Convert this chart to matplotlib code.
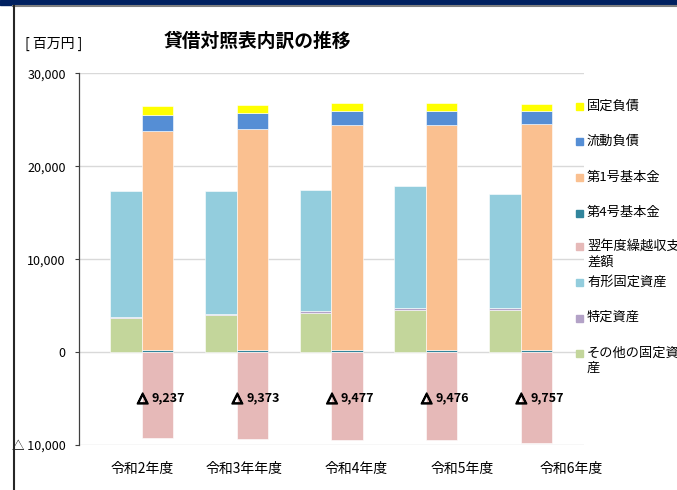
import matplotlib
matplotlib.use("Agg")
import matplotlib.pyplot as plt
import matplotlib.patheffects as pe
from matplotlib.patches import Rectangle
from matplotlib.lines import Line2D
import numpy as np

plt.rcParams['font.family'] = ['Noto Sans CJK JP', 'DejaVu Sans']

# --- data (百万円) ---
years = ["令和2年度", "令和3年年度", "令和4年度", "令和5年度", "令和6年度"]

# assets (left bar)
sonota_kotei = [3650, 3970, 4220, 4510, 4510]     # その他の固定資産
tokutei = [150, 180, 180, 210, 210]               # 特定資産
yukei_kotei = [13490, 13140, 13000, 13110, 12330]  # 有形固定資産

# liabilities / net assets (right bar)
kihon4 = [230, 230, 230, 230, 230]                # 第4号基本金
kihon1 = [23540, 23800, 24230, 24230, 24330]      # 第1号基本金
ryudo_fusai = [1690, 1670, 1460, 1460, 1430]      # 流動負債
kotei_fusai = [1070, 940, 930, 900, 760]          # 固定負債
kurikoshi = [-9237, -9373, -9477, -9476, -9757]   # 翌年度繰越収支差額

legend_labels = ["固定負債", "流動負債", "第1号基本金", "第4号基本金",
                 "翌年度繰越収支\n差額", "有形固定資産", "特定資産", "その他の固定資\n産"]
legend_colors = ["#FFFF00", "#558ED5", "#FAC090", "#31859C",
                 "#E6B9B8", "#93CDDD", "#B3A2C7", "#C3D69B"]
c = dict(zip(["kotei", "ryudo", "k1", "k4", "kuri", "yukei", "toku", "sonota"], legend_colors))

W, H = 677, 490
fig = plt.figure(figsize=(W / 100, H / 100), dpi=100)
ax = fig.add_axes([79 / W, 45 / H, 505 / W, 371.7 / H])

x = np.arange(len(years))
bw = 0.333
xl = x - bw / 2
xr = x + bw / 2
ekw = dict(edgecolor="white", linewidth=0.4, zorder=3)

# left stack
b = np.zeros(len(x))
for vals, col in [(sonota_kotei, c["sonota"]), (tokutei, c["toku"]), (yukei_kotei, c["yukei"])]:
    ax.bar(xl, vals, bw, bottom=b, color=col, **ekw)
    b += np.array(vals)

# right stack
b = np.zeros(len(x))
for vals, col in [(kihon4, c["k4"]), (kihon1, c["k1"]), (ryudo_fusai, c["ryudo"]), (kotei_fusai, c["kotei"])]:
    ax.bar(xr, vals, bw, bottom=b, color=col, **ekw)
    b += np.array(vals)
ax.bar(xr, kurikoshi, bw, color=c["kuri"], **ekw)

# data labels: bold triangle + number
for xi, v in zip(xr, kurikoshi):
    ax.annotate("△", (xi, -4950), xytext=(-7, 0), textcoords="offset points",
                ha="right", va="center", fontsize=10, fontweight="bold",
                family="DejaVu Sans", zorder=5,
                path_effects=[pe.withStroke(linewidth=1.2, foreground="black")])
    ax.annotate("{:,}".format(-v), (xi, -4950), xytext=(-4.5, 0), textcoords="offset points",
                ha="left", va="center", fontsize=9, fontweight="bold", zorder=5)

ax.set_xlim(-0.665, 4.67)
ax.set_ylim(-10000, 30000)
yt = [-10000, 0, 10000, 20000, 30000]
ax.set_yticks(yt)
ax.set_yticklabels(["△ 10,000" if v < 0 else "{:,}".format(v) for v in yt], fontsize=9)
ax.tick_params(axis="y", length=3, width=0.8, pad=6.5, color="#404040")
ax.yaxis.grid(True, color="#D9D9D9", linewidth=1)
ax.set_axisbelow(True)

label_pos = [0.0, 1.078, 2.265, 3.379, 4.53]
ax.set_xticks(label_pos)
ax.set_xticklabels(years, fontsize=10)
ax.tick_params(axis="x", length=0, pad=12)

for s in ["top", "right", "bottom"]:
    ax.spines[s].set_visible(False)
ax.spines["left"].set_color("#404040")
ax.spines["left"].set_linewidth(0.9)

# title and unit
fig.text(257 / W, 1 - 41 / H, "貸借対照表内訳の推移", fontsize=13.5, fontweight="bold",
         ha="center", va="center")
fig.text(25 / W, 1 - 44 / H, "[ 百万円 ]", fontsize=10, ha="left", va="center")

# legend drawn by hand (text runs off the right edge as in the original)
leg_y = [106.7, 141.7, 178, 213, 246.7, 282.7, 318, 353.3]
for yy, lab, col in zip(leg_y, legend_labels, legend_colors):
    fig.patches.append(Rectangle((575.5 / W, 1 - (yy + 3.5) / H), 7 / W, 7 / H,
                                 transform=fig.transFigure, color=col))
    fig.text(587 / W, 1 - (yy - 7) / H, lab, fontsize=9.5, ha="left", va="top",
             linespacing=1.25)

# frame decorations
fig.patches.append(Rectangle((0, 1 - 5 / H), 1, 5 / H, transform=fig.transFigure,
                             color="#002060"))
fig.lines.append(Line2D([13 / W, 1], [1 - 6.5 / H, 1 - 6.5 / H], transform=fig.transFigure,
                        color="#7F7F7F", linewidth=1.5))
fig.lines.append(Line2D([13.5 / W, 13.5 / W], [0, 1 - 6 / H], transform=fig.transFigure,
                        color="#262626", linewidth=1.5))

fig.savefig("out.png", dpi=100)
